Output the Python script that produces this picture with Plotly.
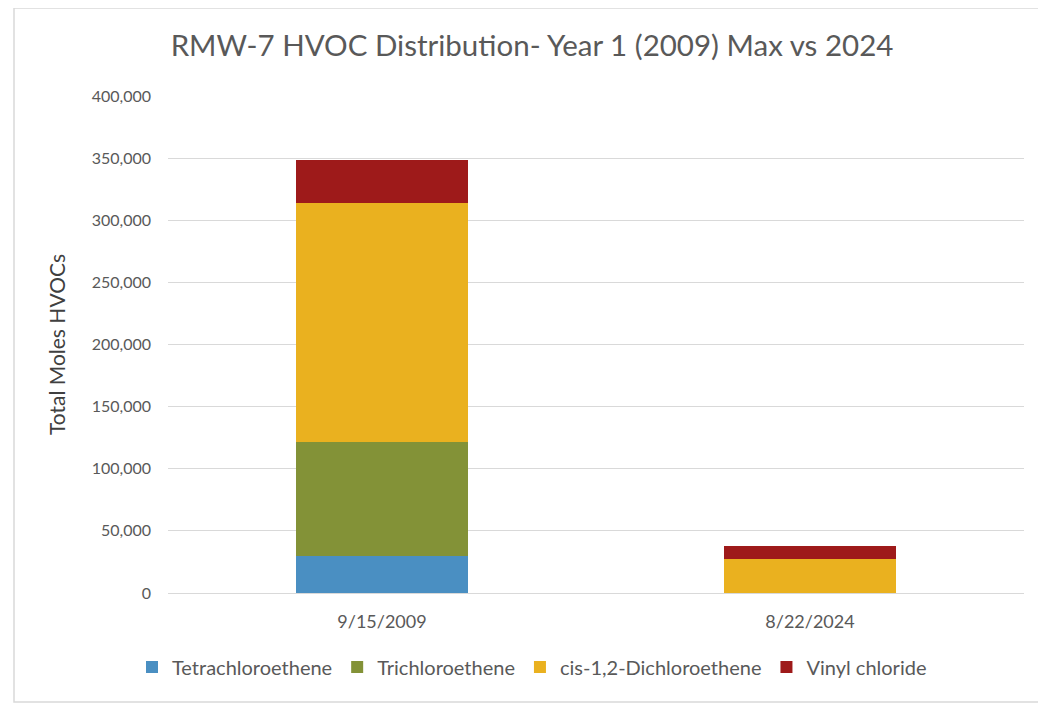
import plotly.graph_objects as go

categories = ["9/15/2009", "8/22/2024"]
series_names = ["Tetrachloroethene", "Trichloroethene", "cis-1,2-Dichloroethene", "Vinyl chloride"]
pce = [30000, 0]
tce = [91500, 0]
cis_dce = [192500, 27500]
vinyl_chloride = [34500, 10500]
series_values = [pce, tce, cis_dce, vinyl_chloride]
colors = ["#4A8FC2", "#839237", "#EAB11F", "#9E1A1A"]
tick_vals = [0, 50000, 100000, 150000, 200000, 250000, 300000, 350000, 400000]

FONT = "Lato"
OFF = 8  # page body margin offset

fig = go.Figure()
for name, vals, col in zip(series_names, series_values, colors):
    fig.add_trace(go.Bar(x=categories, y=vals, name=name, marker=dict(color=col, line=dict(width=0))))

W, H = 1046 - OFF, 708 - OFF
L, T = 168 - OFF, 96 - OFF
R = W - (1024 - OFF)
B = H - (593 - OFF)
pw = W - L - R
ph = H - T - B

fig.update_layout(
    width=W, height=H,
    barmode="stack",
    bargap=0.6,
    paper_bgcolor="white",
    plot_bgcolor="white",
    margin=dict(l=L, r=R, t=T, b=B),
    title=dict(text="RMW-7 HVOC Distribution- Year 1 (2009) Max vs 2024",
               x=(532 - OFF) / W, xanchor="center", y=1 - (46 - OFF) / H, yanchor="middle",
               font=dict(family=FONT, size=29.5, color="#595959")),
    font=dict(family=FONT, color="#595959", size=15),
    legend=dict(orientation="h", x=(532 - 168) / pw, xanchor="center", y=-(667 - 593) / ph, yanchor="middle",
                font=dict(family=FONT, size=20, color="#595959"), traceorder="normal"),
    xaxis=dict(showgrid=False, showline=True, linecolor="#D9D9D9", ticks="",
               ticklabelstandoff=12,
               tickfont=dict(family=FONT, size=18, color="#595959")),
    yaxis=dict(range=[0, 400000], tickvals=tick_vals, tickformat=",", showgrid=True,
               gridcolor="#D9D9D9", gridwidth=1, zeroline=False, showline=False, ticks="",
               ticklabelstandoff=16,
               tickfont=dict(family=FONT, size=16, color="#595959"),
               title=dict(text="Total Moles HVOCs", standoff=20,
                          font=dict(family=FONT, size=21, color="#404040"))),
    shapes=[dict(type="rect", xref="paper", yref="paper",
                 x0=(14 - 168) / pw, x1=(1045 - 168) / pw,
                 y0=-(702 - 593) / ph, y1=(593 - 8) / ph,
                 line=dict(color="#D9D9D9", width=1.5), fillcolor="rgba(0,0,0,0)", layer="below")],
)

fig.write_html("out.html")
